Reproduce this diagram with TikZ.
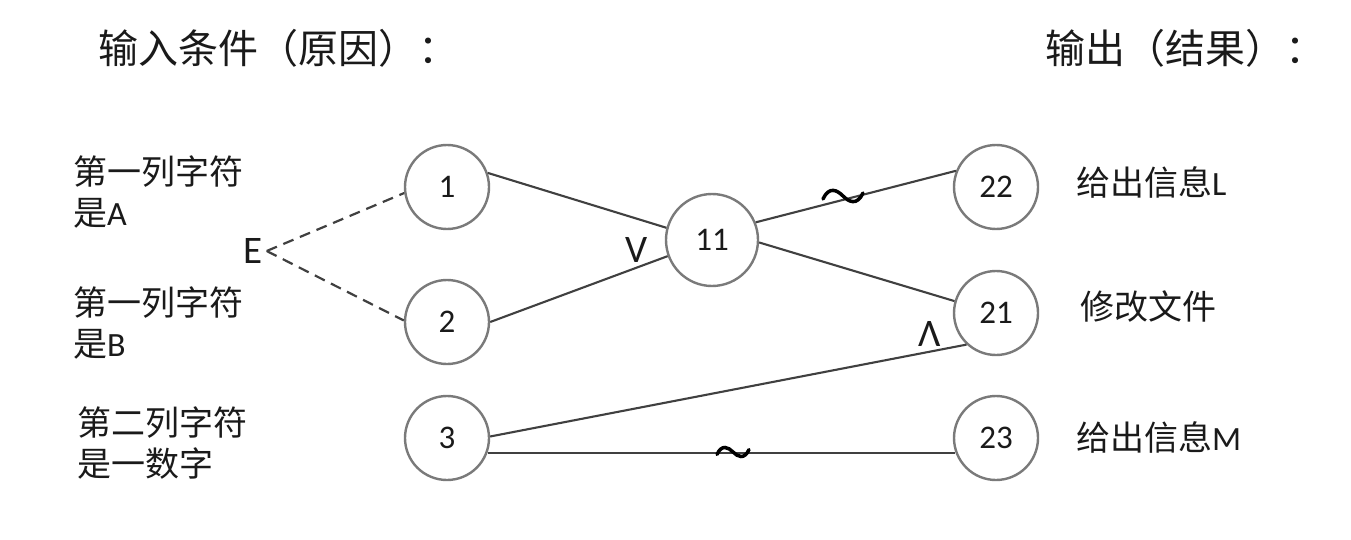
\documentclass[tikz,border=0pt]{standalone}
\usepackage{fontspec}
\setmainfont{Carlito}
\newfontfamily\cjk{Noto Sans CJK SC}
\definecolor{circgray}{HTML}{7A7A7A}
\definecolor{linegray}{HTML}{404040}
\definecolor{txt}{HTML}{1A1A1A}
\begin{document}
\begin{tikzpicture}[x=1pt,y=-1pt,
  circ/.style={circle, draw=circgray, line width=2.4pt, minimum size=84pt, inner sep=0pt,
    font=\fontsize{33}{33}\selectfont, text=txt},
  bigcirc/.style={circ, minimum size=92pt},
  conn/.style={draw=linegray, line width=2.1pt},
  dashconn/.style={conn, line width=2.2pt, dash pattern=on 11pt off 7pt},
  title/.style={anchor=west, inner sep=0pt, font=\fontsize{40}{40}\selectfont\cjk, text=txt},
  lbl/.style={anchor=west, align=left, inner sep=0pt, font=\fontsize{34}{41}\selectfont\cjk, text=txt},
  op/.style={inner sep=0pt, font=\fontsize{39}{39}\selectfont, text=txt},
  tildepic/.pic={\draw[line width=3.5pt, line cap=round, black]
     (-20,3) .. controls (-14,-10) and (-6,-6) .. (0,0) .. controls (6,6) and (14,10) .. (20,-3);}
]
\useasboundingbox[fill=white] (0,0) rectangle (1351,540);

% titles
\node[title] (tin) at (98,48) {输入条件（原因）：};
\node[title] (tout) at (1045,48) {输出（结果）：};

% left labels
\node[lbl] (la) at (73,192) {第一列字符\\是{\rmfamily A}};
\node[lbl] (lb) at (73,323) {第一列字符\\是{\rmfamily B}};
\node[lbl] (lc) at (77,443) {第二列字符\\是一数字};

% right labels
\node[lbl] (ra) at (1076,182) {给出信息{\rmfamily L}};
\node[lbl] (rb) at (1080,307) {修改文件};
\node[lbl] (rc) at (1076,437) {给出信息{\rmfamily M}};

% circles
\node[circ] (n1) at (447,187) {1};
\node[circ] (n2) at (447,322) {2};
\node[circ] (n3) at (447,438) {3};
\node[bigcirc] (n11) at (712,240) {11};
\node[circ] (n22) at (996,187) {22};
\node[circ] (n21) at (996,313) {21};
\node[circ] (n23) at (996,438) {23};

% operators
\node[op] (E) at (253,251) {E};
\node[op] (V) at (637,250) {V};
\node[op] (A) at (930,334) {Λ};

% dashed constraint lines
\draw[dashconn] ([xshift=4pt]E.east) -- (n1.188);
\draw[dashconn] ([xshift=4pt]E.east) -- (n2.178);

% connectors
\draw[conn] (n1.19) -- (n11.165);
\draw[conn] (n2.0) -- (n11.200);
\draw[conn] (n11.22) -- (n22.158);
\draw[conn] (n11.-3) -- (n21.164);
\draw[conn] (n3.2) -- (n21.227);
\draw[conn] (n3.-20) -- (n23.200);

% negation tildes
\pic at (843,196) {tildepic};
\pic[scale=0.8] at (733,452) {tildepic};
\end{tikzpicture}
\end{document}
